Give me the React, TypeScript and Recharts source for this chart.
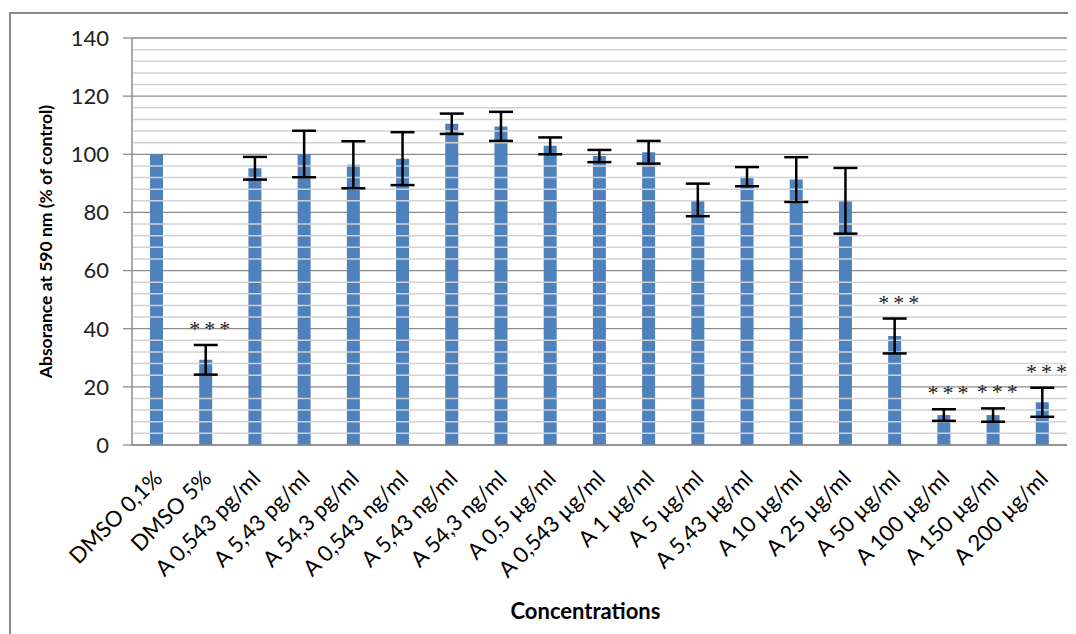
import { Bar, ComposedChart, ErrorBar, XAxis, YAxis, CartesianGrid, ReferenceLine, Line, LabelList, Label } from "recharts";

const categories = [
  "DMSO 0,1%", "DMSO 5%", "A 0,543 pg/ml", "A 5,43 pg/ml", "A 54,3 pg/ml", "A 0,543 ng/ml",
  "A 5,43 ng/ml", "A 54,3 ng/ml", "A 0,5 µg/ml", "A 0,543 µg/ml", "A 1 µg/ml", "A 5 µg/ml",
  "A 5,43 µg/ml", "A 10 µg/ml", "A 25 µg/ml", "A 50 µg/ml", "A 100 µg/ml", "A 150 µg/ml", "A 200 µg/ml",
];
const absorbance = [100, 29.3, 95.2, 100.1, 96.4, 98.5, 110.5, 109.6, 102.9, 99.4, 100.7, 84.3, 92.3, 91.3, 84, 37.5, 10.3, 10.3, 14.7];
const errors = [0, 5.1, 3.9, 8, 8.1, 9.1, 3.5, 5, 2.9, 2.1, 3.9, 5.6, 3.3, 7.7, 11.3, 6, 2, 2.3, 5];
const significant = [false, true, false, false, false, false, false, false, false, false, false, false, false, false, false, true, true, true, true];
const yTicks = [0, 20, 40, 60, 80, 100, 120, 140];
const minorTicks = Array.from({ length: 36 }, (_, i) => i * 4).filter((v) => v % 20 !== 0 && v < 140);

const data = categories.map((name, i) => ({
  name,
  value: absorbance[i],
  err: errors[i],
  top: absorbance[i] + errors[i],
  sig: significant[i],
}));

const FONT = "Lato, 'Open Sans', sans-serif";

function CategoryTick({ x, y, payload }: any) {
  const ax = x + 7;
  const ay = y + 27;
  return (
    <text x={ax} y={ay} transform={`rotate(-45 ${ax} ${ay})`} textAnchor="end" fontFamily={FONT} fontSize={22} fill="#000">
      {payload.value}
    </text>
  );
}

function Stars(props: any) {
  const { x, y, index } = props;
  if (!significant[index]) return null;
  return (
    <text x={x + 6} y={y - 9} textAnchor="middle" fontFamily="'Liberation Serif', serif" fontSize={22} letterSpacing={4} fill="#222">
      ***
    </text>
  );
}

export default function App() {
  return (
    <div style={{ position: "relative", width: 1076, height: 634, margin: "-8px 0 0 -8px", overflow: "hidden", background: "#fff" }}>
      <div style={{ position: "absolute", left: 9, top: 12, width: 1200, height: 800, borderLeft: "2px solid #8a8a8a", borderTop: "2px solid #8a8a8a" }} />
      <div style={{ position: "absolute", left: 0, top: 0 }}>
        <ComposedChart width={1076} height={634} data={data} margin={{ top: 38, right: 9, bottom: 0, left: 0 }} barCategoryGap="0%">
          {minorTicks.map((v) => (
            <ReferenceLine key={v} y={v} stroke="#d2d2d2" strokeWidth={1.5} />
          ))}
          <CartesianGrid vertical={false} stroke="#8c8c8c" strokeWidth={1.3} />
          <XAxis
            dataKey="name"
            interval={0}
            height={189}
            tickLine={false}
            axisLine={{ stroke: "#8c8c8c", strokeWidth: 1.5 }}
            tick={<CategoryTick />}
          >
            <Label value="Concentrations" position="insideBottom" offset={15} dx={-14} fontFamily={FONT} fontSize={22} fontWeight="bold" fill="#000" />
          </XAxis>
          <YAxis
            domain={[0, 140]}
            ticks={yTicks}
            width={132}
            tickSize={9}
            tickMargin={14}
            axisLine={{ stroke: "#8c8c8c", strokeWidth: 1.5 }}
            tickLine={{ stroke: "#8c8c8c", strokeWidth: 1.3 }}
            tick={{ fontFamily: FONT, fontSize: 22, fill: "#222" }}
          >
            <Label value="Absorance at 590 nm (% of control)" angle={-90} position="insideLeft" offset={46} style={{ textAnchor: "middle" }} fontFamily={FONT} fontSize={17.5} fontWeight="bold" fill="#000" />
          </YAxis>
          <Bar dataKey="value" fill="#4f81bd" barSize={13} isAnimationActive={false}>
            <ErrorBar dataKey="err" width={12} stroke="#000" strokeWidth={2.5} />
          </Bar>
          <Line dataKey="top" stroke="none" dot={false} activeDot={false} isAnimationActive={false}>
            <LabelList dataKey="top" content={<Stars />} />
          </Line>
        </ComposedChart>
      </div>
    </div>
  );
}
